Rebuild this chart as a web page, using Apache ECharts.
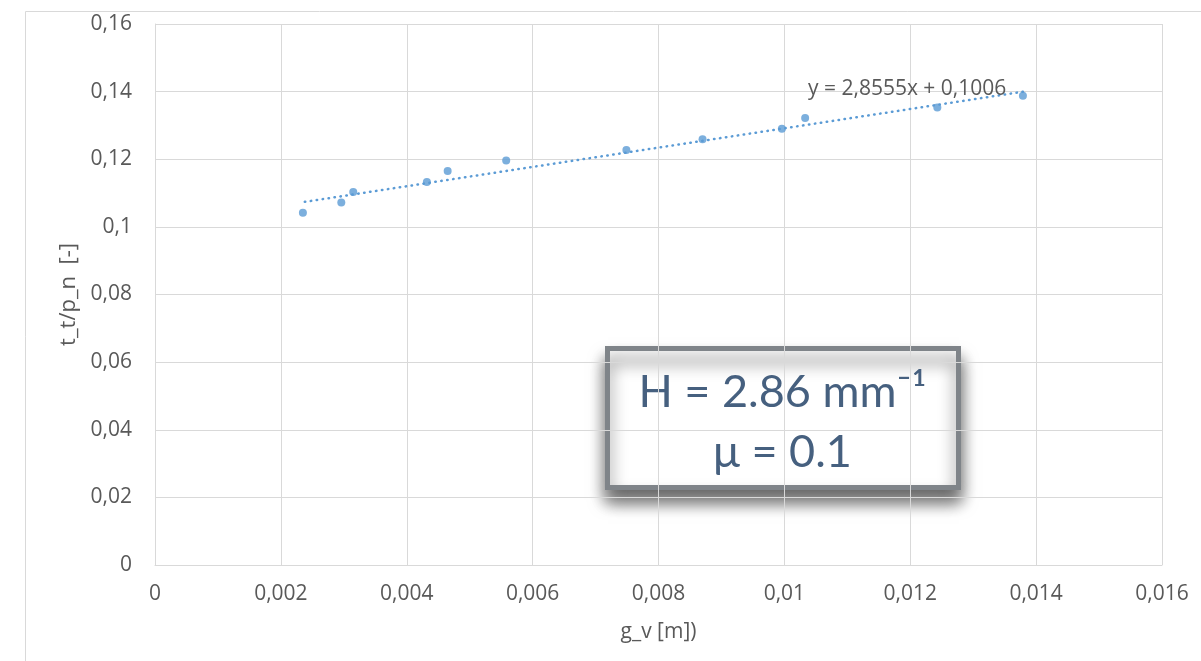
<!DOCTYPE html>
<html>
<head>
<meta charset="utf-8">
<title>t_t/p_n vs g_v</title>
<script src="https://cdn.jsdelivr.net/npm/echarts@6/dist/echarts.min.js"></script>
<style>
  html, body { margin: 0; padding: 0; background: #fff; }
  #main { width: 1201px; height: 661px; }
</style>
</head>
<body>
<div id="main"></div>
<script>
// measured points (g_v [m], t_t/p_n [-])
var gv = [0.00235, 0.00296, 0.00315, 0.00432, 0.00465, 0.00558, 0.00749, 0.00870, 0.00996, 0.01033, 0.01243, 0.01379];
var ttpn = [0.1042, 0.1072, 0.1103, 0.1133, 0.1165, 0.1196, 0.1227, 0.1259, 0.1290, 0.1322, 0.1353, 0.1388];

// linear trendline ends
var trendX = [0.00238, 0.0138];
var trendY = [0.1074, 0.1400];

var equation = 'y = 2,8555x + 0,1006';
var boxLines = ['H = 2.86 mm\u207B\u00B9', '\u03BC = 0.1'];

var blue = '#5b9bd5';
var grey = '#595959';
var font = 'Open Sans, sans-serif';

function comma(v, d) {
    return String(parseFloat(v.toFixed(d))).replace('.', ',');
}

var points = gv.map(function (x, i) { return [x, ttpn[i]]; });
var trend = trendX.map(function (x, i) { return [x, trendY[i]]; });

var chart = echarts.init(document.getElementById('main'));
chart.setOption({
    animation: false,
    textStyle: { fontFamily: font },
    grid: { left: 155, top: 24, right: 39, bottom: 96 },
    xAxis: {
        type: 'value',
        min: 0, max: 0.016, interval: 0.002,
        name: 'g_v [m])',
        nameLocation: 'middle',
        nameGap: 57,
        nameTextStyle: { color: grey, fontSize: 21 },
        axisLine: { show: true, lineStyle: { color: '#d9d9d9', width: 1 } },
        axisTick: { show: false },
        axisLabel: { color: grey, fontSize: 21, margin: 19, formatter: function (v) { return comma(v, 3); } },
        splitLine: { show: true, lineStyle: { color: '#d9d9d9', width: 1 } }
    },
    yAxis: {
        type: 'value',
        min: 0, max: 0.16, interval: 0.02,
        name: 't_t/p_n\u00A0\u00A0[-]',
        nameLocation: 'middle',
        nameRotate: 90,
        nameGap: 64,
        nameTextStyle: { color: grey, fontSize: 22 },
        axisLine: { show: true, lineStyle: { color: '#d9d9d9', width: 1 } },
        axisTick: { show: false },
        axisLabel: { color: grey, fontSize: 21, margin: 23, formatter: function (v) { return comma(v, 2); } },
        splitLine: { show: true, lineStyle: { color: '#d9d9d9', width: 1 } }
    },
    series: [
        {
            type: 'line',
            data: trend,
            symbol: 'none',
            silent: true,
            lineStyle: { color: blue, width: 2.5, type: [0.5, 5.5], cap: 'round' },
            z: 2
        },
        {
            type: 'scatter',
            data: points,
            symbol: 'circle',
            symbolSize: 8,
            itemStyle: { color: blue },
            z: 3
        }
    ],
    graphic: [
        {
            type: 'rect',
            left: 23, top: 9,
            shape: { width: 1200, height: 700 },
            style: { fill: 'none', stroke: '#d9d9d9', lineWidth: 1 },
            silent: true
        },
        {
            type: 'text',
            left: 808, top: 79,
            style: { text: equation, fill: grey, fontSize: 21, fontFamily: font },
            z: 10
        },
        {
            type: 'group',
            left: 605, top: 346,
            z: 20,
            children: [
                {
                    type: 'rect',
                    shape: { x: 0, y: 0, width: 351, height: 139 },
                    style: {
                        fill: '#ffffff', stroke: '#7f8489', lineWidth: 5,
                        shadowBlur: 16, shadowOffsetY: 12, shadowColor: 'rgba(0,0,0,0.6)'
                    }
                },
                {
                    type: 'text',
                    x: 175, y: 44,
                    style: {
                        text: boxLines[0], fill: '#46607f', fontSize: 45,
                        fontFamily: 'Lato, sans-serif', align: 'center', verticalAlign: 'middle'
                    }
                },
                {
                    type: 'text',
                    x: 175, y: 104,
                    style: {
                        text: boxLines[1], fill: '#46607f', fontSize: 45,
                        fontFamily: 'Lato, sans-serif', align: 'center', verticalAlign: 'middle'
                    }
                }
            ]
        }
    ]
});
</script>
</body>
</html>
